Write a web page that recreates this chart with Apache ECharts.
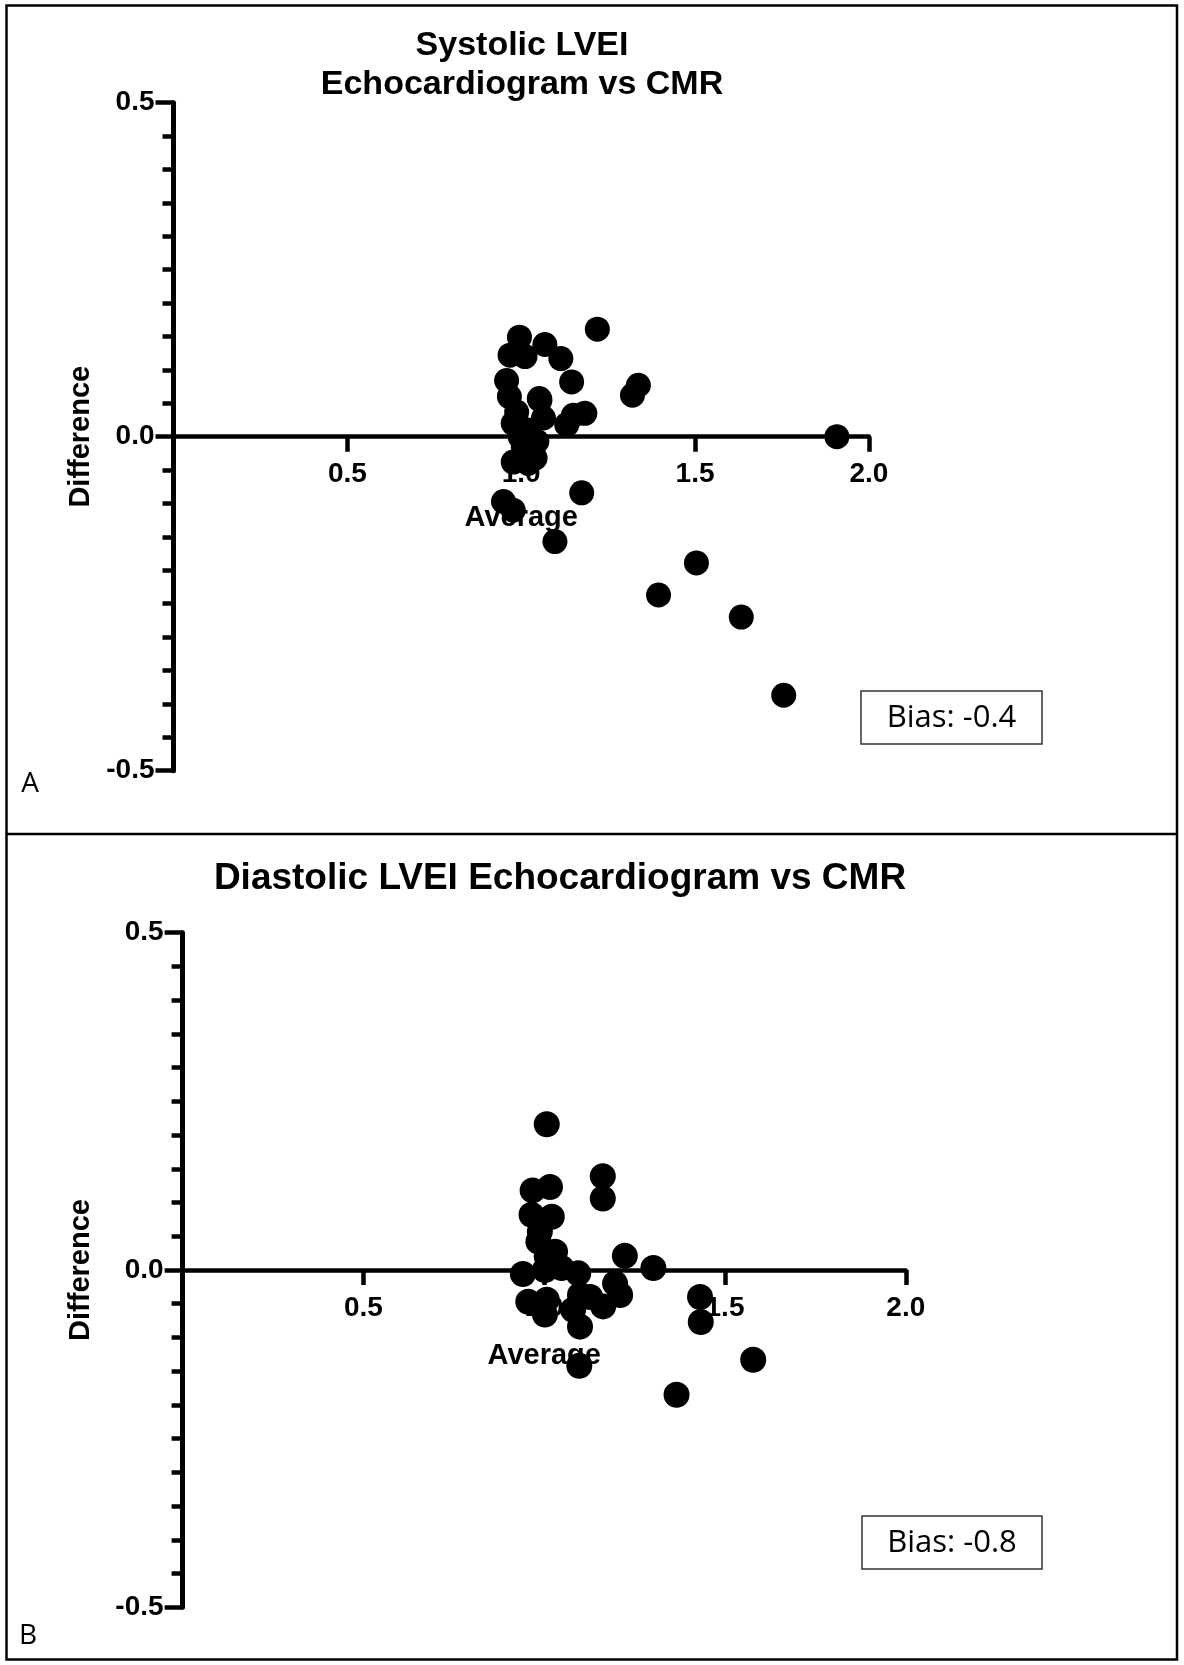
<!DOCTYPE html>
<html>
<head>
<meta charset="utf-8">
<script src="https://cdn.jsdelivr.net/npm/echarts@6/dist/echarts.min.js"></script>
<style>
html,body{margin:0;padding:0;background:#fff;}
#chart{width:1184px;height:1665px;}
</style>
</head>
<body>
<div id="chart"></div>
<script>
// Panel A: Systolic LVEI (Bland-Altman: average vs difference)
const avgA = [1.219, 0.995, 1.068, 0.968, 1.011, 1.114, 0.958, 1.145, 1.337, 1.320, 0.966, 1.052,
  1.183, 1.150, 1.131, 1.054, 0.987, 1.064, 0.977, 1.020, 0.997, 1.045, 1.006, 1.040, 0.977, 1.020,
  1.174, 0.949, 0.977, 1.097, 1.908, 1.504, 1.395, 1.633, 1.755];
const diffA = [0.161, 0.149, 0.138, 0.122, 0.120, 0.117, 0.084, 0.082, 0.077, 0.062, 0.060, 0.057,
  0.035, 0.032, 0.018, 0.055, 0.037, 0.028, 0.020, 0.010, 0.000, -0.007, -0.015, -0.032, -0.038, -0.040,
  -0.084, -0.097, -0.110, -0.157, 0.000, -0.189, -0.237, -0.270, -0.387];

// Panel B: Diastolic LVEI
const avgB = [1.007, 1.162, 1.162, 0.968, 1.016, 0.965, 1.021, 0.984, 1.030, 1.223, 1.302, 0.941,
  1.002, 1.094, 1.048, 1.196, 1.210, 0.956, 1.007, 1.002, 1.099, 1.127, 1.163, 1.099, 1.080, 1.431,
  1.433, 1.097, 1.578, 1.366, 1.007, 0.988];
const diffB = [0.216, 0.139, 0.106, 0.118, 0.123, 0.082, 0.079, 0.042, 0.027, 0.021, 0.003, -0.006,
  0.000, -0.005, 0.003, -0.020, -0.037, -0.047, -0.044, -0.066, -0.037, -0.040, -0.054, -0.084, -0.059, -0.040,
  -0.077, -0.142, -0.133, -0.185, 0.020, 0.057];

const titleA = 'Systolic LVEI\nEchocardiogram vs CMR';
const titleB = 'Diastolic LVEI Echocardiogram vs CMR';
const biasA = 'Bias: -0.4';
const biasB = 'Bias: -0.8';
const xName = 'Average';
const yName = 'Difference';
const xMin = 0, xMax = 2, xStep = 0.5;
const yMin = -0.5, yMax = 0.5, yStep = 0.5;

const BOLD = '"Liberation Sans", Arial, Helvetica, sans-serif';
const fmt = v => v.toFixed(1);

// hidden x axis carrying the data scale of the full plot area
function xDataAxis(gi) {
  return { gridIndex: gi, type: 'value', min: xMin, max: xMax, interval: xStep, show: false };
}
// visible x axis drawn along the zero line (bottom of the upper-half grid)
function xAxisFor(gi, gap) {
  return {
    gridIndex: gi, type: 'value', min: xMin, max: xMax, interval: xStep, position: 'bottom',
    axisLine: { onZero: false, lineStyle: { color: '#000', width: 4.5 } },
    axisTick: { length: 15, lineStyle: { color: '#000', width: 4.5 } },
    axisLabel: { showMinLabel: false, margin: 24, color: '#000', fontSize: 28, fontWeight: 'bold', fontFamily: BOLD, formatter: fmt },
    splitLine: { show: false },
    name: xName, nameLocation: 'middle', nameGap: gap,
    nameTextStyle: { color: '#000', fontSize: 29, fontWeight: 'bold', fontFamily: BOLD }
  };
}
function yAxisFor(gi, gap) {
  return {
    gridIndex: gi, type: 'value', min: yMin, max: yMax, interval: yStep,
    axisLine: { onZero: false, lineStyle: { color: '#000', width: 5 } },
    axisTick: { length: 18, lineStyle: { color: '#000', width: 4.5 } },
    minorTick: { show: true, splitNumber: 10, length: 11, lineStyle: { color: '#000', width: 4.5 } },
    axisLabel: { margin: 19, color: '#000', fontSize: 28, fontWeight: 'bold', fontFamily: BOLD, formatter: fmt },
    splitLine: { show: false },
    name: yName, nameLocation: 'middle', nameGap: gap, nameRotate: 90,
    nameTextStyle: { color: '#000', fontSize: 29, fontWeight: 'bold', fontFamily: BOLD }
  };
}
function yHidden(gi) {
  return { gridIndex: gi, type: 'value', min: 0, max: yMax, show: false };
}

const chart = echarts.init(document.getElementById('chart'), null, { renderer: 'canvas' });
chart.setOption({
  backgroundColor: '#fff',
  animation: false,
  grid: [
    { left: 173.5, top: 102.7, width: 695.4, height: 668 },
    { left: 173.5, top: 102.7, width: 695.4, height: 334 },
    { left: 182.6, top: 932.7, width: 723.2, height: 674.6 },
    { left: 182.6, top: 932.7, width: 723.2, height: 337.3 }
  ],
  xAxis: [xDataAxis(0), xAxisFor(1, 67), xDataAxis(2), xAxisFor(3, 71)],
  yAxis: [yAxisFor(0, 78), yHidden(1), yAxisFor(2, 87), yHidden(3)],
  series: [
    { type: 'scatter', xAxisIndex: 0, yAxisIndex: 0, symbol: 'circle', symbolSize: 25, z: 5,
      itemStyle: { color: '#000', opacity: 1 }, data: avgA.map((x, i) => [x, diffA[i]]) },
    { type: 'scatter', xAxisIndex: 2, yAxisIndex: 2, symbol: 'circle', symbolSize: 26, z: 5,
      itemStyle: { color: '#000', opacity: 1 }, data: avgB.map((x, i) => [x, diffB[i]]) }
  ],
  graphic: [
    { type: 'rect', shape: { x: 6.5, y: 5.5, width: 1170.5, height: 1654 }, style: { fill: 'none', stroke: '#000', lineWidth: 2.5 }, z: 10 },
    { type: 'line', shape: { x1: 6.5, y1: 834, x2: 1177, y2: 834 }, style: { stroke: '#000', lineWidth: 2.5 }, z: 10 },
    { type: 'text', x: 522, y: 65, style: { text: titleA, font: 'bold 34px ' + BOLD, fill: '#000', textAlign: 'center', textVerticalAlign: 'middle', lineHeight: 39 } },
    { type: 'text', x: 560, y: 879, style: { text: titleB, font: 'bold 37px ' + BOLD, fill: '#000', textAlign: 'center', textVerticalAlign: 'middle' } },
    { type: 'rect', shape: { x: 861, y: 691, width: 181, height: 53 }, style: { fill: '#fff', stroke: '#333', lineWidth: 1.5 } },
    { type: 'text', x: 951.5, y: 718, style: { text: biasA, font: '31px "Open Sans", sans-serif', fill: '#000', textAlign: 'center', textVerticalAlign: 'middle' } },
    { type: 'rect', shape: { x: 862, y: 1516, width: 180, height: 53 }, style: { fill: '#fff', stroke: '#333', lineWidth: 1.5 } },
    { type: 'text', x: 952, y: 1543, style: { text: biasB, font: '31px "Open Sans", sans-serif', fill: '#000', textAlign: 'center', textVerticalAlign: 'middle' } },
    { type: 'text', x: 30, y: 784, style: { text: 'A', font: '28px "Open Sans", sans-serif', fill: '#000', textAlign: 'center', textVerticalAlign: 'middle' } },
    { type: 'text', x: 28, y: 1636, style: { text: 'B', font: '28px "Open Sans", sans-serif', fill: '#000', textAlign: 'center', textVerticalAlign: 'middle' } }
  ]
});
</script>
</body>
</html>
